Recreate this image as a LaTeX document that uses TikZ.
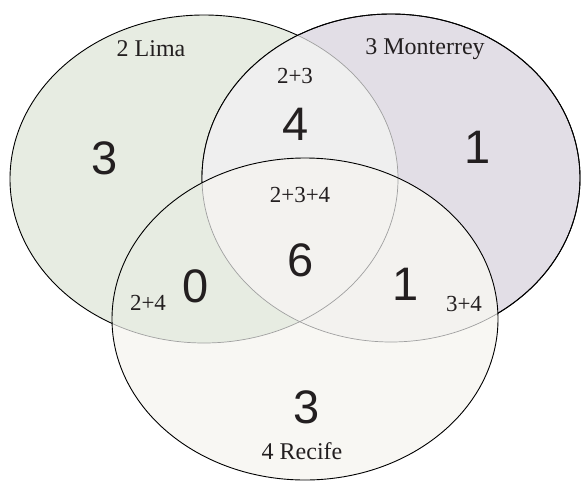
\documentclass[tikz,border=0pt]{standalone}
\usepackage{fontspec}
\setmainfont{Liberation Serif}
\newfontfamily\numfont{Liberation Sans}
\definecolor{limafill}{HTML}{E7ECE2}
\definecolor{montfill}{HTML}{E2DEE6}
\definecolor{lmfill}{HTML}{EFEFEF}
\definecolor{recfill}{HTML}{F8F7F3}
\definecolor{mrfill}{HTML}{F3F2EF}
\definecolor{inkc}{HTML}{231F20}
\definecolor{innerline}{HTML}{A0A0A0}
\def\limaE{(204,179) ellipse [x radius=194, y radius=164]}
\def\montE{(391,178) ellipse [x radius=189, y radius=164]}
\def\recE{(305,319) ellipse [x radius=193, y radius=161]}
\tikzset{
  outer/.style={draw=black, line width=0.9pt},
  inner/.style={draw=innerline, line width=0.7pt},
  count/.style={text=inkc, font=\numfont\fontsize{47}{47}\selectfont, inner sep=0pt},
  setlabel/.style={text=inkc, font=\fontsize{24}{24}\selectfont, inner sep=0pt},
  combo/.style={text=inkc, font=\fontsize{23}{23}\selectfont, inner sep=0pt}
}
\begin{document}
\begin{tikzpicture}[x=1pt, y=-1pt]
\useasboundingbox (0,0) rectangle (581,482);
% Lima and Monterrey sets
\fill[limafill] \limaE;
\draw[outer] \limaE;
\fill[montfill] \montE;
\draw[outer] \montE;
\begin{scope}
  \clip \montE;
  \fill[lmfill] \limaE;
  \draw[inner] \limaE;
\end{scope}
\draw[outer] \montE;
% Recife set on top
\fill[recfill] \recE;
\begin{scope}
  \clip \recE;
  \fill[limafill] \limaE;
  \fill[mrfill] \montE;
  \begin{scope}
    \clip \limaE;
    \fill[mrfill] \montE;
  \end{scope}
  \draw[inner] \limaE;
  \draw[inner] \montE;
\end{scope}
\draw[outer] \recE;
% set names
\node[setlabel] (lima) at (151,49) {2 Lima};
\node[setlabel] (mont) at (425,49) {3 Monterrey};
\node[setlabel] (rec) at (302,451) {4 Recife};
% intersection names
\node[combo] (c23) at (295,76) {2+3};
\node[combo] (c234) at (300,195) {2+3+4};
\node[combo] (c24) at (148,303) {2+4};
\node[combo] (c34) at (464,304) {3+4};
% counts
\node[count] (n2) at (105,158) {3};
\node[count] (n3) at (478,147) {1};
\node[count] (n23) at (296,124) {4};
\node[count] (n234) at (301,260) {6};
\node[count] (n24) at (196,286) {0};
\node[count] (n34) at (406,284) {1};
\node[count] (n4) at (307,407) {3};
\end{tikzpicture}
\end{document}
